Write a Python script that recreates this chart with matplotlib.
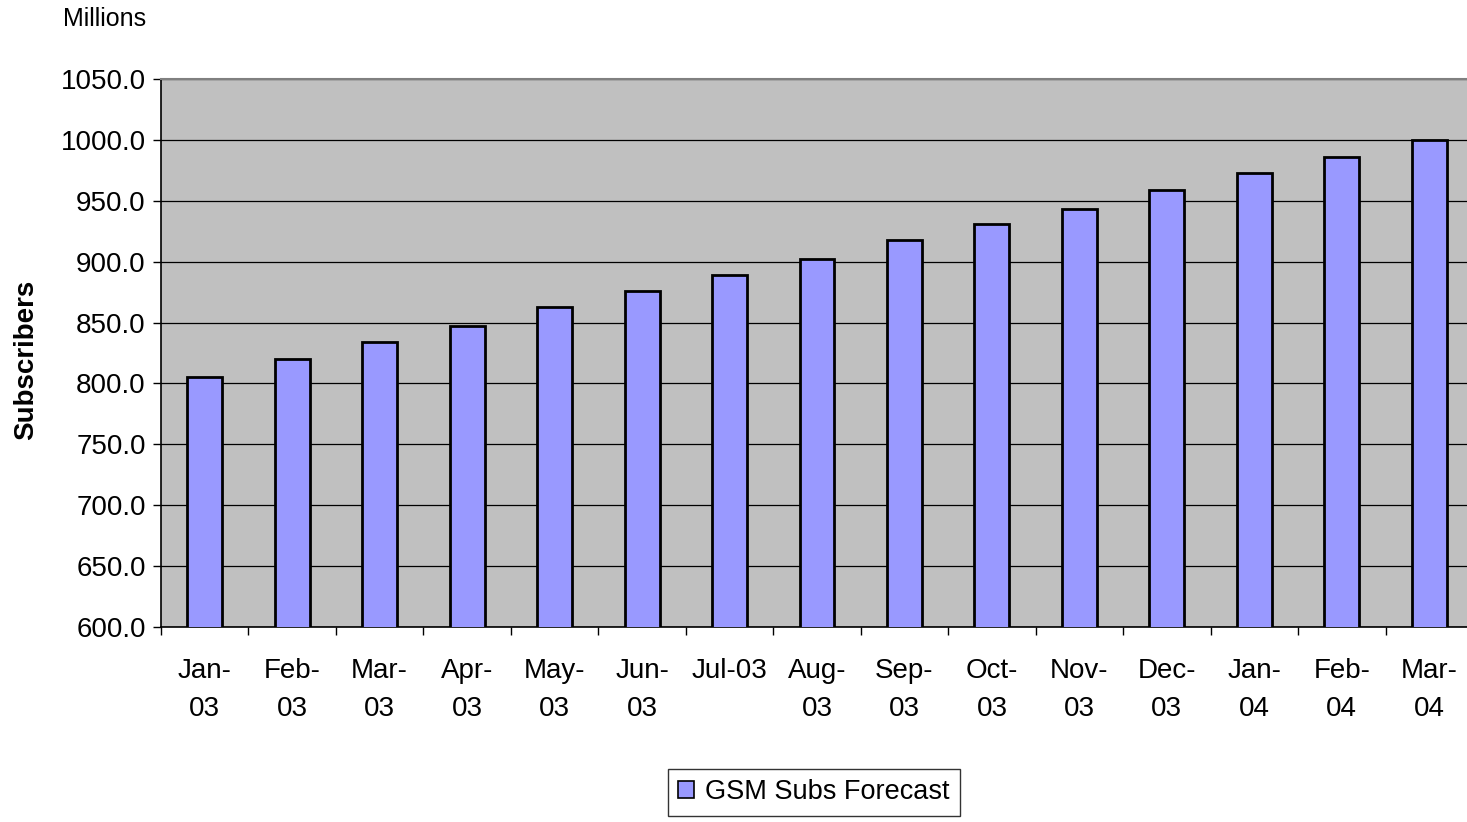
import matplotlib
matplotlib.use("Agg")
import matplotlib.pyplot as plt
import numpy as np

categories = ["Jan-\n03", "Feb-\n03", "Mar-\n03", "Apr-\n03", "May-\n03", "Jun-\n03",
              "Jul-03", "Aug-\n03", "Sep-\n03", "Oct-\n03", "Nov-\n03", "Dec-\n03",
              "Jan-\n04", "Feb-\n04", "Mar-\n04"]
subs = [805, 820, 834, 847, 863, 876, 889, 902, 918, 931, 943, 959, 973, 986, 1000]
yticks = [600, 650, 700, 750, 800, 850, 900, 950, 1000, 1050]
series_name = "GSM Subs Forecast"

plt.rcParams['font.family'] = ['Liberation Sans', 'DejaVu Sans']

W, H = 1467, 822
fig = plt.figure(figsize=(W / 100, H / 100), dpi=100)
left, right, top, bottom = 161, 1473, 79, 627
ax = fig.add_axes([left / W, 1 - bottom / H, (right - left) / W, (bottom - top) / H])
ax.set_facecolor('#C0C0C0')

x = np.arange(len(categories))
ax.bar(x, subs, width=0.4, color='#9999FF', edgecolor='black', linewidth=2.0,
       label=series_name, zorder=3)

ax.set_xlim(-0.5, len(categories) - 0.5)
ax.set_ylim(600, 1050)
ax.set_yticks(yticks)
ax.set_yticklabels([f"{v:.1f}" for v in yticks], fontsize=20)
ax.yaxis.grid(True, color='black', linewidth=0.9, zorder=1)
ax.set_axisbelow(True)

ax.set_xticks(np.arange(len(categories) + 1) - 0.5)
ax.set_xticklabels([])
ax.set_xticks(x, minor=True)
ax.set_xticklabels(categories, minor=True, fontsize=20, linespacing=1.62, va='top')
ax.tick_params(axis='x', which='major', direction='out', length=6, width=1, color='black')
ax.tick_params(axis='x', which='minor', length=0, pad=22)
ax.tick_params(axis='y', direction='out', length=6, width=1, pad=5, color='black')

for s in ['left', 'bottom']:
    ax.spines[s].set_color('black')
    ax.spines[s].set_linewidth(1.2)
ax.spines['top'].set_color('#808080')
ax.spines['top'].set_linewidth(1.5)
ax.spines['right'].set_visible(False)

fig.text(63 / W, 1 - 19 / H, "Millions", fontsize=18, va='center', ha='left')
fig.text(26 / W, 1 - 360 / H, "Subscribers", fontsize=20, fontweight='bold',
         rotation=90, va='center', ha='center')

leg = fig.legend(loc='upper center', bbox_to_anchor=(814 / W, 1 - 769 / H),
                 fontsize=19.5, frameon=True, fancybox=False, edgecolor='black',
                 handlelength=0.6, handleheight=0.6, handletextpad=0.4,
                 borderpad=0.38, borderaxespad=0)
leg.get_frame().set_linewidth(1.0)
for p in leg.get_patches():
    p.set_linewidth(1.2)

fig.savefig("out.png", dpi=100, facecolor='white')
